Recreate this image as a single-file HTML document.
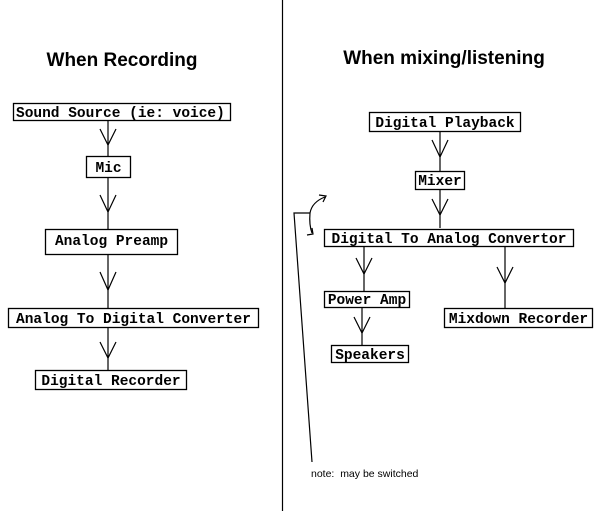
<!DOCTYPE html>
<html><head><style>
html,body{margin:0;padding:0;background:#fff;}
svg{display:block;}
.b{fill:#fff;stroke:#000;stroke-width:1.3;}
.t{font-family:"Liberation Mono",monospace;font-size:14.5px;font-weight:bold;fill:#000;}
.h{font-family:"Liberation Sans",sans-serif;font-size:19px;font-weight:bold;fill:#000;}
.l{stroke:#000;stroke-width:1.2;fill:none;}
</style></head><body>
<svg width="598" height="511" viewBox="0 0 598 511" xmlns="http://www.w3.org/2000/svg">
<line x1="282.5" y1="0" x2="282.5" y2="511" class="l"/>
<text x="122" y="66" class="h" text-anchor="middle">When Recording</text>
<text x="444" y="64" class="h" text-anchor="middle">When mixing/listening</text>

<line x1="108" y1="120" x2="108" y2="308" class="l"/>
<line x1="108" y1="328" x2="108" y2="370" class="l"/>
<g class="l">
<polyline points="100,129 108,145 116,129"/>
<polyline points="100,195 108,212 116,195"/>
<polyline points="100,272 108,290 116,272"/>
<polyline points="100,342 108,358 116,342"/>
</g>
<rect x="13.5" y="103.5" width="217" height="17" class="b"/>
<text x="16" y="117" class="t">Sound Source (ie: voice)</text>
<rect x="86.5" y="156.5" width="44" height="21" class="b"/>
<text x="108.5" y="172" class="t" text-anchor="middle">Mic</text>
<rect x="45.5" y="229.5" width="132" height="25" class="b"/>
<text x="111.5" y="245" class="t" text-anchor="middle">Analog Preamp</text>
<rect x="8.5" y="308.5" width="250" height="19" class="b"/>
<text x="133.5" y="323" class="t" text-anchor="middle">Analog To Digital Converter</text>
<rect x="35.5" y="370.5" width="151" height="19" class="b"/>
<text x="111" y="385" class="t" text-anchor="middle">Digital Recorder</text>

<line x1="440" y1="132" x2="440" y2="228" class="l"/>
<line x1="364" y1="247" x2="364" y2="291" class="l"/>
<line x1="362" y1="307" x2="362" y2="345" class="l"/>
<line x1="505" y1="247" x2="505" y2="308" class="l"/>
<g class="l">
<polyline points="432,140 440,157 448,140"/>
<polyline points="432,199 440,215 448,199"/>
<polyline points="356,258 364,274 372,258"/>
<polyline points="354,317 362,333 370,317"/>
<polyline points="497,267 505,283 513,267"/>
</g>
<rect x="369.5" y="112.5" width="151" height="19" class="b"/>
<text x="445" y="127" class="t" text-anchor="middle">Digital Playback</text>
<rect x="415.5" y="171.5" width="49" height="18" class="b"/>
<text x="440" y="185" class="t" text-anchor="middle">Mixer</text>
<rect x="324.5" y="229.5" width="249" height="17" class="b"/>
<text x="449" y="243" class="t" text-anchor="middle">Digital To Analog Convertor</text>
<rect x="324.5" y="291.5" width="85" height="16" class="b"/>
<text x="367" y="304" class="t" text-anchor="middle">Power Amp</text>
<rect x="444.5" y="308.5" width="148" height="19" class="b"/>
<text x="518.5" y="323" class="t" text-anchor="middle">Mixdown Recorder</text>
<rect x="331.5" y="345.5" width="77" height="17" class="b"/>
<text x="370" y="359" class="t" text-anchor="middle">Speakers</text>

<g class="l">
<polyline points="312,462 294,213 310,213"/>
<path d="M310,213 Q312,202 325,197"/>
<polyline points="319,195 326,196 323,202"/>
<path d="M310,213 Q309,225 312,233"/>
<polyline points="307,235 313,234 312,228"/>
</g>
<text x="311" y="477" font-family="Liberation Sans,sans-serif" font-size="10.5" fill="#000">note:&#160; may be switched</text>
</svg>
</body></html>
